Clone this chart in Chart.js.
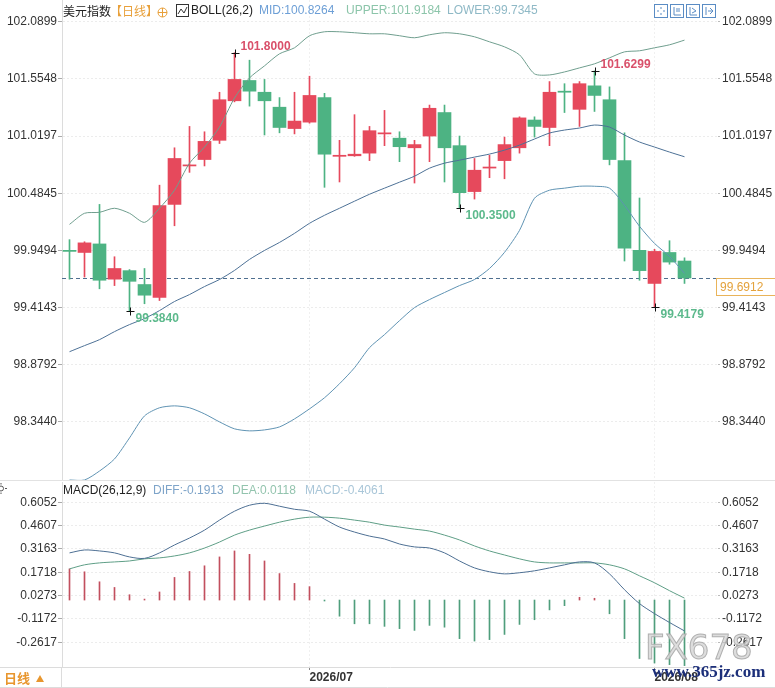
<!DOCTYPE html>
<html><head><meta charset="utf-8">
<script src="https://cdn.jsdelivr.net/npm/chart.js@4.4.1/dist/chart.umd.min.js"></script>
<style>
html,body{margin:0;padding:0;background:#fff;}
#wrap{position:relative;width:775px;height:688px;overflow:hidden;background:#fff;}
#c1{position:absolute;left:0;top:0;}
#c2{position:absolute;left:0;top:481px;}
</style></head><body>
<div id="wrap">
<canvas id="c1" width="775" height="481"></canvas>
<canvas id="c2" width="775" height="207"></canvas>
</div>
<script>
// ---------------- DATA ----------------
const opens  = [99.95,99.93,100.01,99.68,99.76,99.63,99.51,100.38,100.74,100.80,100.98,101.35,101.54,101.43,101.29,101.09,101.15,101.38,100.83,100.835,100.86,101.04,101.00,100.91,101.02,101.24,100.93,100.50,100.72,100.79,100.91,101.17,101.10,101.44,101.27,101.49,101.36,100.79,99.95,99.64,99.93,99.85];
const highs  = [100.05,100.03,100.38,99.89,99.77,99.78,100.56,100.91,101.11,101.06,101.43,101.80,101.73,101.55,101.38,101.43,101.58,101.42,100.98,101.22,101.11,101.26,101.06,100.98,101.31,101.31,101.02,100.81,100.84,101.01,101.20,101.20,101.53,101.51,101.53,101.6299,101.48,101.05,100.44,99.96,100.04,99.88];
const lows   = [99.68,99.70,99.59,99.62,99.384,99.45,99.48,100.18,100.68,100.74,100.95,101.34,101.30,101.03,101.05,101.04,101.14,100.54,100.59,100.83,100.79,100.93,100.78,100.58,100.78,100.59,100.35,100.43,100.63,100.62,100.86,101.01,100.93,101.24,101.11,101.25,100.75,99.85,99.67,99.4179,99.82,99.64];
const closes = [99.94,100.02,99.67,99.78,99.66,99.53,100.37,100.81,100.75,100.97,101.36,101.55,101.44,101.35,101.10,101.16,101.40,100.85,100.84,100.85,101.07,101.05,100.92,100.94,101.28,100.91,100.49,100.70,100.73,100.94,101.19,101.11,101.43,101.43,101.51,101.40,100.80,99.97,99.76,99.94,99.84,99.6912];

const bollUpper = [100.193,100.297,100.306,100.344,100.297,100.212,100.344,100.513,100.766,100.917,101.104,101.376,101.564,101.677,101.790,101.846,101.959,101.996,101.996,101.987,101.977,101.977,101.959,101.940,101.968,101.987,101.977,101.949,101.902,101.855,101.780,101.602,101.592,101.620,101.658,101.696,101.752,101.808,101.818,101.846,101.874,101.918];
const bollMid   = [99.001,99.058,99.114,99.189,99.255,99.311,99.386,99.471,99.536,99.611,99.677,99.762,99.865,99.949,100.024,100.109,100.203,100.278,100.344,100.410,100.475,100.532,100.588,100.644,100.719,100.766,100.794,100.823,100.851,100.888,100.935,100.992,101.048,101.076,101.095,101.123,101.104,101.029,100.964,100.917,100.870,100.826];
const bollLower = [97.800,97.800,97.884,97.997,98.194,98.400,98.476,98.494,98.476,98.419,98.344,98.279,98.260,98.269,98.297,98.372,98.466,98.570,98.701,98.851,99.039,99.161,99.292,99.414,99.489,99.555,99.620,99.677,99.780,99.931,100.137,100.438,100.513,100.532,100.550,100.550,100.532,100.372,100.175,100.015,99.893,99.7345];

const macdDiff = [0.292,0.310,0.304,0.292,0.267,0.258,0.292,0.341,0.384,0.433,0.495,0.550,0.587,0.599,0.581,0.562,0.550,0.501,0.452,0.421,0.396,0.378,0.347,0.329,0.322,0.292,0.242,0.199,0.175,0.162,0.169,0.181,0.199,0.218,0.236,0.230,0.162,0.064,-0.022,-0.084,-0.139,-0.1913];
const macdDea  = [0.193,0.218,0.230,0.236,0.242,0.255,0.261,0.273,0.292,0.322,0.359,0.402,0.433,0.458,0.482,0.501,0.513,0.513,0.507,0.495,0.482,0.464,0.452,0.439,0.427,0.402,0.372,0.335,0.304,0.279,0.255,0.236,0.230,0.230,0.230,0.230,0.218,0.193,0.150,0.107,0.058,0.0118];
const macdHist = [0.193,0.175,0.113,0.078,0.033,0.006,0.05,0.14,0.177,0.212,0.267,0.304,0.283,0.242,0.164,0.103,0.083,-0.006,-0.100,-0.147,-0.147,-0.163,-0.177,-0.188,-0.157,-0.168,-0.239,-0.254,-0.245,-0.213,-0.151,-0.122,-0.061,-0.035,0.017,0.011,-0.085,-0.239,-0.362,-0.39,-0.40,-0.4061];

const priceTicks = [98.3440,98.8792,99.4143,99.9494,100.4845,101.0197,101.5548,102.0899];
const priceTickLabels = ['98.3440','98.8792','99.4143','99.9494','100.4845','101.0197','101.5548','102.0899'];
const macdTicks = [-0.2617,-0.1172,0.0273,0.1718,0.3163,0.4607,0.6052];
const macdTickLabels = ['-0.2617','-0.1172','0.0273','0.1718','0.3163','0.4607','0.6052'];
const dateTickIndex = [16, 39];
const dateTickLabels = ['2026/07', '2026/08'];

const markIndex = [11, 35, 26, 4, 39];
const markValue = [101.8000, 101.6299, 100.3500, 99.3840, 99.4179];
const markLabel = ['101.8000', '101.6299', '100.3500', '99.3840', '99.4179'];
const markIsHigh = [true, true, false, false, false];

const lastPrice = 99.6912;
const lastPriceLabel = '99.6912';

// ---------------- STYLE ----------------
const FONT = '"Liberation Sans", Arial, "Noto Sans CJK SC", sans-serif';
const CJK = '"Noto Sans CJK SC", "Liberation Sans", sans-serif';
const RED = '#e6495c', GREEN = '#4db383';
const idx = opens.map((_, i) => i);
const candleColor = idx.map(i => closes[i] > opens[i] ? RED : GREEN);
const X_MIN = -0.5, X_MAX = 43.233;

function fixY(w) { return s => { s.width = w; s.paddingTop = 0; s.paddingBottom = 0; }; }
function yAxis(pos, ticks, labels, min, max, w) {
  const left = pos === 'left';
  return {
    type: 'linear', position: pos, min: min, max: max,
    afterBuildTicks: s => { s.ticks = ticks.map(v => ({ value: v })); },
    afterFit: fixY(w),
    ticks: { autoSkip: false, color: '#333', padding: left ? 1 : 2, font: { family: FONT, size: 12 },
      callback: v => labels[ticks.indexOf(v)] },
    grid: left ? { color: '#ececec', tickColor: '#aaa', tickLength: 4, drawOnChartArea: true }
               : { drawOnChartArea: false, tickColor: '#bbb', tickLength: 2 },
    border: left ? { display: true, color: '#dcdcdc', dash: [2, 2] } : { display: false }
  };
}
function xAxis(showLabels) {
  return {
    type: 'linear', min: X_MIN, max: X_MAX, offset: false, bounds: 'data',
    afterDataLimits: s => { s.min = X_MIN; s.max = X_MAX; },
    afterBuildTicks: s => { s.ticks = dateTickIndex.map(v => ({ value: v })); },
    afterFit: s => { s.height = showLabels ? 21 : 0; s.paddingLeft = 0; s.paddingRight = 0; },
    ticks: showLabels ? { autoSkip: false, maxRotation: 0, align: 'start', padding: 0, color: '#333',
          font: { family: FONT, size: 12, weight: 'bold' }, callback: v => dateTickLabels[dateTickIndex.indexOf(v)] }
        : { display: false },
    grid: showLabels ? { offset: false, color: '#f0f0f0', tickColor: '#888', tickLength: 3 }
        : { offset: false, color: '#f0f0f0', drawTicks: false },
    border: { display: showLabels, color: '#dcdcdc', dash: [2, 2] }
  };
}

// ---------------- TOP CHART ----------------
const topPlugin = {
  id: 'topDeco',
  beforeDatasetsDraw(c) {
    const { ctx, scales: { y } } = c;
    const py = Math.round(y.getPixelForValue(lastPrice)) + 0.5;
    ctx.save();
    ctx.strokeStyle = '#4f6f8f'; ctx.lineWidth = 1; ctx.setLineDash([4, 3]);
    ctx.beginPath(); ctx.moveTo(c.chartArea.left, py); ctx.lineTo(c.chartArea.right, py); ctx.stroke();
    ctx.restore();
  },
  afterDatasetsDraw(c) {
    const { ctx, scales: { x, y } } = c;
    ctx.save();
    markIndex.forEach((mi, k) => {
      const px = Math.round(x.getPixelForValue(mi)) + 0.5;
      const py = Math.round(y.getPixelForValue(markValue[k])) + 0.5;
      ctx.strokeStyle = '#111'; ctx.lineWidth = 1;
      ctx.beginPath(); ctx.moveTo(px - 4, py); ctx.lineTo(px + 4, py);
      ctx.moveTo(px, py - 4); ctx.lineTo(px, py + 4); ctx.stroke();
      ctx.font = 'bold 12px ' + FONT; ctx.textBaseline = 'middle'; ctx.textAlign = 'left';
      ctx.fillStyle = markIsHigh[k] ? '#d9506a' : '#5cb98c';
      ctx.fillText(markLabel[k], px + 5, markIsHigh[k] ? py - 7 : py + 7);
    });
    ctx.restore();
  },
  afterDraw(c) {
    const { ctx, scales: { y } } = c;
    ctx.save();
    const py = Math.round(y.getPixelForValue(lastPrice)) + 0.5;
    ctx.fillStyle = '#fff'; ctx.fillRect(716, py, 60, 17);
    ctx.strokeStyle = '#e9b45a'; ctx.lineWidth = 1; ctx.strokeRect(716.5, py, 62, 17);
    ctx.fillStyle = '#e4a23c'; ctx.font = '12px ' + FONT; ctx.textBaseline = 'middle';
    ctx.fillText(lastPriceLabel, 720, py + 9);
    ctx.textBaseline = 'middle';
    ctx.font = '12px ' + CJK; ctx.fillStyle = '#222'; ctx.fillText('美元指数', 63, 11);
    ctx.fillStyle = '#e8a03a'; ctx.fillText('【日线】', 110, 11);
    ctx.strokeStyle = '#e8a03a'; ctx.lineWidth = 1;
    ctx.beginPath(); ctx.arc(162.5, 12.5, 4.5, 0, Math.PI * 2); ctx.moveTo(158, 12.5); ctx.lineTo(167, 12.5);
    ctx.moveTo(162.5, 8); ctx.lineTo(162.5, 17); ctx.stroke();
    ctx.strokeStyle = '#333'; ctx.strokeRect(176.5, 4.5, 12, 12);
    ctx.beginPath(); ctx.moveTo(178, 14); ctx.lineTo(181, 9); ctx.lineTo(184, 13); ctx.lineTo(187, 7); ctx.stroke();
    ctx.font = '12px ' + FONT;
    ctx.fillStyle = '#222'; ctx.fillText('BOLL(26,2)', 191, 11);
    ctx.fillStyle = '#6d9fd6'; ctx.fillText('MID:100.8264', 259, 11);
    ctx.fillStyle = '#8cc5aa'; ctx.fillText('UPPER:101.9184', 346, 11);
    ctx.fillStyle = '#8fb9c6'; ctx.fillText('LOWER:99.7345', 447, 11);
    ctx.strokeStyle = '#5a8cc4';
    [654, 670, 686, 702].forEach((bx, k) => {
      ctx.strokeRect(bx + 0.5, 4.5, 13, 13);
      ctx.beginPath();
      if (k === 0) { ctx.moveTo(bx + 7, 7); ctx.lineTo(bx + 7, 9); ctx.moveTo(bx + 7, 13); ctx.lineTo(bx + 7, 15);
        ctx.moveTo(bx + 3, 11); ctx.lineTo(bx + 5, 11); ctx.moveTo(bx + 9, 11); ctx.lineTo(bx + 11, 11); }
      else if (k === 1) { ctx.moveTo(bx + 4, 7); ctx.lineTo(bx + 4, 15); ctx.lineTo(bx + 11, 15); ctx.moveTo(bx + 7, 8); ctx.lineTo(bx + 7, 12); ctx.moveTo(bx + 9, 8); ctx.lineTo(bx + 9, 12); }
      else if (k === 2) { ctx.moveTo(bx + 4, 7); ctx.lineTo(bx + 4, 15); ctx.lineTo(bx + 11, 15); ctx.moveTo(bx + 6, 8); ctx.lineTo(bx + 10, 11); ctx.lineTo(bx + 6, 13); }
      else { ctx.moveTo(bx + 4, 7); ctx.lineTo(bx + 4, 15); ctx.moveTo(bx + 6, 11); ctx.lineTo(bx + 11, 11); ctx.moveTo(bx + 8, 8); ctx.lineTo(bx + 11, 11); ctx.lineTo(bx + 8, 14); }
      ctx.stroke();
    });
    ctx.strokeStyle = '#e2e2e2'; ctx.beginPath(); ctx.moveTo(0, 480.5); ctx.lineTo(775, 480.5); ctx.stroke();
    ctx.restore();
  }
};

new Chart(document.getElementById('c1'), {
  data: {
    datasets: [
      { type: 'line', data: idx.map(i => ({ x: i, y: bollUpper[i] })), borderColor: '#6f9e8e', borderWidth: 1, pointRadius: 0, tension: 0.25, order: 0 },
      { type: 'line', data: idx.map(i => ({ x: i, y: bollMid[i] })), borderColor: '#4d7196', borderWidth: 1, pointRadius: 0, tension: 0.25, order: 0 },
      { type: 'line', data: idx.map(i => ({ x: i, y: bollLower[i] })), borderColor: '#5f93b3', borderWidth: 1, pointRadius: 0, tension: 0.25, order: 0 },
      { type: 'bar', data: idx.map(i => ({ x: i, y: [lows[i], highs[i]] })), backgroundColor: candleColor, barThickness: 1, maxBarThickness: 1, grouped: false, order: 2 },
      { type: 'bar', data: idx.map(i => ({ x: i, y: [opens[i], closes[i]] })), backgroundColor: candleColor, barThickness: 13, maxBarThickness: 13, minBarLength: 1, grouped: false, order: 1 }
    ]
  },
  options: {
    responsive: false, animation: false, events: [],
    layout: { padding: 0 },
    plugins: { legend: { display: false }, tooltip: { enabled: false } },
    scales: {
      x: xAxis(false),
      y: yAxis('left', priceTicks, priceTickLabels, 97.7907, 102.2935, 62),
      y2: yAxis('right', priceTicks, priceTickLabels, 97.7907, 102.2935, 57)
    }
  },
  plugins: [topPlugin]
});

// ---------------- MACD CHART ----------------
const botPlugin = {
  id: 'botDeco',
  afterDraw(c) {
    const { ctx } = c;
    ctx.save();
    ctx.textBaseline = 'middle';
    ctx.font = '12px ' + FONT;
    ctx.fillStyle = '#222'; ctx.fillText('MACD(26,12,9)', 63, 10);
    ctx.fillStyle = '#7ea4c9'; ctx.fillText('DIFF:-0.1913', 153, 10);
    ctx.fillStyle = '#93c4ae'; ctx.fillText('DEA:0.0118', 232, 10);
    ctx.fillStyle = '#a9c6d8'; ctx.fillText('MACD:-0.4061', 305, 10);
    ctx.strokeStyle = '#555'; ctx.lineWidth = 1;
    ctx.beginPath(); ctx.arc(1, 7.5, 2.5, 0, Math.PI * 2); ctx.stroke();
    ctx.beginPath(); ctx.moveTo(5, 7.5); ctx.lineTo(7, 7.5); ctx.moveTo(1, 2); ctx.lineTo(1, 3.5); ctx.moveTo(1, 11.5); ctx.lineTo(1, 13); ctx.stroke();
    ctx.strokeStyle = '#dcdcdc';
    ctx.beginPath(); ctx.moveTo(0, 186.5); ctx.lineTo(62, 186.5);
    ctx.moveTo(61.5, 186); ctx.lineTo(61.5, 207);
    ctx.moveTo(0, 206.5); ctx.lineTo(775, 206.5); ctx.stroke();
    ctx.font = 'bold 13px ' + CJK; ctx.fillStyle = '#e8962e'; ctx.fillText('日线', 4, 197);
    ctx.beginPath(); ctx.moveTo(36, 201); ctx.lineTo(44, 201); ctx.lineTo(40, 194); ctx.closePath(); ctx.fill();
    ctx.font = '34px "DejaVu Sans", ' + FONT;
    ctx.fillStyle = 'rgba(215,215,215,0.85)'; ctx.strokeStyle = 'rgba(170,170,170,0.9)';
    ctx.fillText('FX678', 645, 169); ctx.strokeText('FX678', 645, 169);
    ctx.font = 'bold 17px "Liberation Serif", "DejaVu Serif", serif'; ctx.fillStyle = '#1c2f7a';
    ctx.fillText('www.365jz.com', 652, 192);
    ctx.restore();
  }
};

new Chart(document.getElementById('c2'), {
  data: {
    datasets: [
      { type: 'line', data: idx.map(i => ({ x: i, y: macdDiff[i] })), borderColor: '#4d6f93', borderWidth: 1, pointRadius: 0, tension: 0.3, order: 0 },
      { type: 'line', data: idx.map(i => ({ x: i, y: macdDea[i] })), borderColor: '#5e9e86', borderWidth: 1, pointRadius: 0, tension: 0.3, order: 0 },
      { type: 'bar', data: idx.map(i => ({ x: i, y: macdHist[i] })), backgroundColor: macdHist.map(v => v >= 0 ? '#c24f5e' : '#4f9e7c'), barThickness: 1, maxBarThickness: 1, order: 1 }
    ]
  },
  options: {
    responsive: false, animation: false, events: [],
    layout: { padding: { top: 1, left: 0, right: 0, bottom: 0 } },
    plugins: { legend: { display: false }, tooltip: { enabled: false } },
    scales: {
      x: xAxis(true),
      y: yAxis('left', macdTicks, macdTickLabels, -0.4146, 0.7309, 62),
      y2: yAxis('right', macdTicks, macdTickLabels, -0.4146, 0.7309, 57)
    }
  },
  plugins: [botPlugin]
});
</script>
</body></html>
